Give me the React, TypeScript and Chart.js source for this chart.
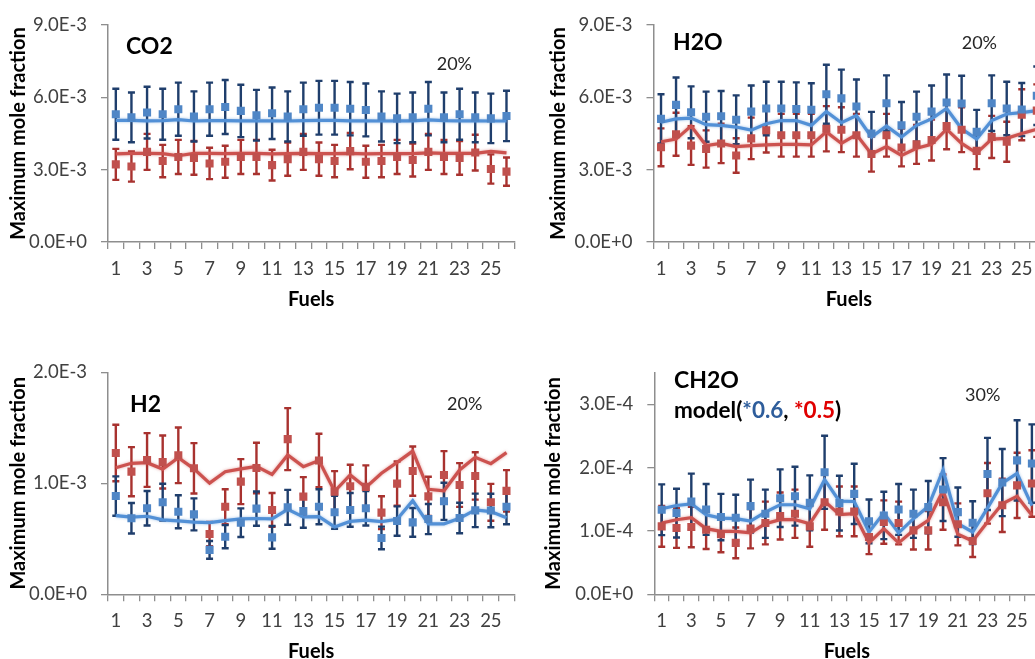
import React, { useEffect, useRef } from 'react';
import { Chart, registerables } from 'chart.js';

Chart.register(...registerables);

// ---------- DATA ----------
const fuels = ['1','2','3','4','5','6','7','8','9','10','11','12','13','14','15','16','17','18','19','20','21','22','23','24','25','26'];

// CO2 (mole fraction)
const co2Blue = [5.30e-3,5.17e-3,5.37e-3,5.30e-3,5.51e-3,5.21e-3,5.51e-3,5.60e-3,5.44e-3,5.26e-3,5.34e-3,5.21e-3,5.51e-3,5.57e-3,5.57e-3,5.53e-3,5.48e-3,5.21e-3,5.13e-3,5.17e-3,5.53e-3,5.17e-3,5.30e-3,5.17e-3,5.13e-3,5.23e-3];
const co2Red = [3.22e-3,3.13e-3,3.74e-3,3.36e-3,3.53e-3,3.49e-3,3.26e-3,3.33e-3,3.53e-3,3.53e-3,3.19e-3,3.44e-3,3.74e-3,3.44e-3,3.36e-3,3.77e-3,3.33e-3,3.36e-3,3.53e-3,3.40e-3,3.74e-3,3.53e-3,3.49e-3,3.71e-3,3.03e-3,2.92e-3];
const co2BlueModel = [5.05e-3,5.05e-3,5.03e-3,5.04e-3,5.08e-3,5.02e-3,5.04e-3,5.04e-3,5.03e-3,5.03e-3,5.03e-3,5.02e-3,5.04e-3,5.05e-3,5.05e-3,5.03e-3,5.03e-3,5.02e-3,5.03e-3,5.03e-3,5.07e-3,5.04e-3,5.03e-3,5.03e-3,5.02e-3,5.02e-3];
const co2RedModel = [3.66e-3,3.68e-3,3.68e-3,3.67e-3,3.58e-3,3.68e-3,3.68e-3,3.67e-3,3.68e-3,3.68e-3,3.66e-3,3.67e-3,3.68e-3,3.67e-3,3.67e-3,3.68e-3,3.66e-3,3.67e-3,3.67e-3,3.67e-3,3.70e-3,3.68e-3,3.68e-3,3.68e-3,3.76e-3,3.70e-3];

// H2O
const h2oBlue = [5.11e-3,5.69e-3,5.38e-3,5.20e-3,5.22e-3,5.07e-3,5.41e-3,5.54e-3,5.54e-3,5.52e-3,5.49e-3,6.13e-3,5.96e-3,5.62e-3,4.50e-3,5.76e-3,4.84e-3,5.20e-3,5.41e-3,5.79e-3,5.75e-3,4.57e-3,5.76e-3,5.54e-3,5.50e-3,6.07e-3];
const h2oRed = [3.93e-3,4.47e-3,4.00e-3,3.86e-3,4.09e-3,3.59e-3,4.30e-3,4.64e-3,4.43e-3,4.43e-3,4.43e-3,4.70e-3,4.66e-3,4.43e-3,3.65e-3,4.43e-3,3.92e-3,4.05e-3,4.23e-3,4.81e-3,4.66e-3,3.78e-3,4.36e-3,4.16e-3,5.28e-3,5.45e-3];
const h2oBlueModel = [4.97e-3,5.11e-3,5.14e-3,4.87e-3,4.84e-3,4.77e-3,4.64e-3,4.91e-3,5.04e-3,5.04e-3,4.84e-3,5.41e-3,4.95e-3,5.25e-3,4.36e-3,4.81e-3,4.36e-3,4.84e-3,5.11e-3,5.54e-3,4.70e-3,4.27e-3,5.04e-3,5.31e-3,5.37e-3,5.45e-3];
const h2oRedModel = [4.16e-3,4.27e-3,4.81e-3,4.00e-3,4.09e-3,3.96e-3,4.00e-3,4.03e-3,4.05e-3,4.05e-3,4.03e-3,4.57e-3,4.09e-3,4.46e-3,3.65e-3,3.96e-3,3.59e-3,3.89e-3,4.05e-3,4.68e-3,4.09e-3,3.69e-3,4.27e-3,4.30e-3,4.50e-3,4.68e-3];

// H2
const h2Blue = [0.885e-3,0.685e-3,0.775e-3,0.830e-3,0.744e-3,0.720e-3,0.400e-3,0.519e-3,0.645e-3,0.772e-3,0.513e-3,0.784e-3,0.750e-3,0.789e-3,0.739e-3,0.760e-3,0.775e-3,0.508e-3,0.660e-3,0.648e-3,0.678e-3,0.838e-3,0.687e-3,0.756e-3,0.755e-3,0.789e-3];
const h2Red = [1.273e-3,1.105e-3,1.210e-3,1.192e-3,1.252e-3,1.135e-3,0.543e-3,0.789e-3,1.015e-3,1.138e-3,0.760e-3,1.398e-3,0.880e-3,1.205e-3,0.925e-3,0.973e-3,0.968e-3,0.736e-3,0.997e-3,1.110e-3,0.882e-3,1.075e-3,0.985e-3,1.066e-3,0.829e-3,0.932e-3];
const h2BlueModel = [0.708e-3,0.696e-3,0.703e-3,0.670e-3,0.662e-3,0.650e-3,0.646e-3,0.664e-3,0.680e-3,0.683e-3,0.680e-3,0.765e-3,0.697e-3,0.700e-3,0.607e-3,0.657e-3,0.668e-3,0.655e-3,0.675e-3,0.843e-3,0.635e-3,0.635e-3,0.684e-3,0.760e-3,0.745e-3,0.689e-3];
const h2RedModel = [1.140e-3,1.180e-3,1.186e-3,1.128e-3,1.230e-3,1.130e-3,1.002e-3,1.105e-3,1.130e-3,1.153e-3,1.080e-3,1.255e-3,1.150e-3,1.205e-3,0.928e-3,1.075e-3,0.962e-3,1.090e-3,1.188e-3,1.290e-3,0.946e-3,0.933e-3,1.120e-3,1.234e-3,1.177e-3,1.276e-3];

// CH2O
const ch2oBlue = [1.335e-4,1.283e-4,1.466e-4,1.340e-4,1.220e-4,1.209e-4,1.393e-4,1.272e-4,1.518e-4,1.550e-4,1.445e-4,1.927e-4,1.440e-4,1.586e-4,1.152e-4,1.246e-4,1.340e-4,1.272e-4,1.377e-4,1.654e-4,1.298e-4,1.131e-4,1.901e-4,1.765e-4,2.115e-4,2.065e-4];
const ch2oRed = [1.073e-4,1.047e-4,1.063e-4,1.021e-4,0.948e-4,0.812e-4,1.037e-4,1.126e-4,1.236e-4,1.272e-4,1.073e-4,1.455e-4,1.309e-4,1.309e-4,0.906e-4,1.141e-4,1.126e-4,1.010e-4,1.010e-4,1.455e-4,1.105e-4,0.843e-4,1.595e-4,1.405e-4,1.720e-4,1.750e-4];
const ch2oBlueModel = [1.351e-4,1.403e-4,1.429e-4,1.257e-4,1.204e-4,1.194e-4,1.157e-4,1.298e-4,1.414e-4,1.414e-4,1.351e-4,1.812e-4,1.471e-4,1.466e-4,0.984e-4,1.283e-4,0.969e-4,1.194e-4,1.387e-4,1.963e-4,1.115e-4,0.984e-4,1.361e-4,1.754e-4,1.911e-4,1.400e-4];
const ch2oRedModel = [1.126e-4,1.178e-4,1.209e-4,1.037e-4,0.995e-4,0.995e-4,0.969e-4,1.115e-4,1.178e-4,1.178e-4,1.115e-4,1.471e-4,1.257e-4,1.272e-4,0.812e-4,1.037e-4,0.812e-4,1.010e-4,1.168e-4,1.639e-4,0.948e-4,0.843e-4,1.141e-4,1.429e-4,1.550e-4,1.250e-4];

// error bar fractions shown on the panels
const errCO2 = 0.2;
const errH2O = 0.2;
const errH2 = 0.2;
const errCH2O = 0.3;

// ---------- STYLE ----------
const FONT = 'Lato, "Open Sans", sans-serif';
const AXIS_GRAY = '#8e8e8e';
const TICK_TEXT = '#404040';
const BLUE_MARK = '#4f86c6';
const RED_MARK = '#c0504d';
const BLUE_ERR = '#1f3e6c';
const RED_ERR = '#a8322f';
const BLUE_LINE = '#5290d6';
const RED_LINE = '#cc524f';
const TICK_SIZE = 18.5;
const TITLE_SIZE = 20;

type Part = { text: string; color: string };
type Note = { x: number; cy: number; size: number; bold: boolean; parts: Part[]; base?: number };

type Panel = {
  left: number; top: number; w: number; h: number;
  axL: number; axR: number; axT: number; axB: number;
  yMax: number; yStep: number; titlePadBottom: number;
  err: number;
  blue: number[]; red: number[]; blueModel: number[]; redModel: number[];
  notes: Note[];
};

const panels: Panel[] = [
  {
    left: 0, top: 0, w: 520, h: 320, axL: 108, axR: 519, axT: 21, axB: 242,
    yMax: 9e-3, yStep: 3e-3, titlePadBottom: 8, err: errCO2,
    blue: co2Blue, red: co2Red, blueModel: co2BlueModel, redModel: co2RedModel,
    notes: [
      { x: 126, cy: 45.3, size: 23, bold: true, parts: [{ text: 'CO2', color: '#000' }] },
      { x: 436.7, cy: 64, size: 18, bold: false, parts: [{ text: '20%', color: '#262626' }] },
    ],
  },
  {
    left: 540, top: 0, w: 510, h: 320, axL: 113.5, axR: 504.3, axT: 21, axB: 242,
    yMax: 9e-3, yStep: 3e-3, titlePadBottom: 8, err: errH2O,
    blue: h2oBlue, red: h2oRed, blueModel: h2oBlueModel, redModel: h2oRedModel,
    notes: [
      { x: 673, cy: 41.7, size: 23, bold: true, parts: [{ text: 'H2O', color: '#000' }] },
      { x: 961.7, cy: 42.7, size: 18, bold: false, parts: [{ text: '20%', color: '#262626' }] },
    ],
  },
  {
    left: 0, top: 330, w: 520, h: 340, axL: 108, axR: 519, axT: 42.3, axB: 264.3,
    yMax: 2e-3, yStep: 1e-3, titlePadBottom: 6.6, err: errH2,
    blue: h2Blue, red: h2Red, blueModel: h2BlueModel, redModel: h2RedModel,
    notes: [
      { x: 130, cy: 403.3, size: 23, bold: true, parts: [{ text: 'H2', color: '#000' }] },
      { x: 447, cy: 404, size: 18, bold: false, parts: [{ text: '20%', color: '#262626' }] },
    ],
  },
  {
    left: 535, top: 330, w: 510, h: 340, axL: 119.3, axR: 504.6, axT: 42.7, axB: 264.3,
    yMax: 3.5e-4, yStep: 1e-4, titlePadBottom: 6.6, err: errCH2O,
    blue: ch2oBlue, red: ch2oRed, blueModel: ch2oBlueModel, redModel: ch2oRedModel,
    notes: [
      { x: 674, cy: 380, size: 23, bold: true, parts: [{ text: 'CH2O', color: '#000' }] },
      {
        x: 674, cy: 411, size: 22.5, bold: true, base: 0.33,
        parts: [
          { text: 'model(', color: '#000' },
          { text: '*0.6', color: '#2e5d9b' },
          { text: ', ', color: '#000' },
          { text: '*0.5', color: '#e00000' },
          { text: ')', color: '#000' },
        ],
      },
      { x: 965, cy: 395, size: 18, bold: false, parts: [{ text: '30%', color: '#262626' }] },
    ],
  },
];

const fmtExp = (v: number) => Number(v).toExponential(1).toUpperCase();

const errorBarPlugin = {
  id: 'errorBars',
  beforeDatasetsDraw(chart: any) {
    const ctx = chart.ctx;
    const ys = chart.scales.y;
    const order = [1, 0];
    order.forEach((idx) => {
      const ds: any = chart.data.datasets[idx];
      if (!ds || !ds.errPct) return;
      const meta = chart.getDatasetMeta(idx);
      ctx.save();
      ctx.strokeStyle = ds.errColor;
      ctx.lineWidth = 2.4;
      meta.data.forEach((pt: any, i: number) => {
        const v = ds.data[i];
        if (v == null) return;
        const x = pt.x;
        const y1 = ys.getPixelForValue(v * (1 + ds.errPct));
        const y2 = ys.getPixelForValue(v * (1 - ds.errPct));
        ctx.beginPath();
        ctx.moveTo(x, y1);
        ctx.lineTo(x, y2);
        ctx.moveTo(x - 3.5, y1);
        ctx.lineTo(x + 3.5, y1);
        ctx.moveTo(x - 3.5, y2);
        ctx.lineTo(x + 3.5, y2);
        ctx.stroke();
      });
      ctx.restore();
    });
  },
  beforeDatasetDraw(chart: any, args: any) {
    const ds: any = chart.data.datasets[args.index];
    if (ds && ds.glow) {
      chart.ctx.shadowColor = ds.glow;
      chart.ctx.shadowBlur = 3;
    }
  },
  afterDatasetDraw(chart: any) {
    chart.ctx.shadowColor = 'rgba(0,0,0,0)';
    chart.ctx.shadowBlur = 0;
  },
};

function makeNotesPlugin(p: Panel) {
  return {
    id: 'notes',
    afterDraw(chart: any) {
      const ctx = chart.ctx;
      ctx.save();
      ctx.textBaseline = 'alphabetic';
      ctx.textAlign = 'left';
      p.notes.forEach((n) => {
        ctx.font = `${n.bold ? 'bold ' : ''}${n.size}px ${FONT}`;
        let x = n.x - p.left;
        const y = n.cy - p.top + (n.base ?? 0.36) * n.size;
        n.parts.forEach((part) => {
          ctx.fillStyle = part.color;
          ctx.fillText(part.text, x, y);
          x += ctx.measureText(part.text).width;
        });
      });
      ctx.restore();
    },
  };
}

function PanelChart({ p }: { p: Panel }) {
  const ref = useRef<HTMLCanvasElement>(null);
  useEffect(() => {
    const canvas = ref.current;
    if (!canvas) return;
    const lastTick = Math.floor(p.yMax / p.yStep + 1e-6) * p.yStep;
    const chart = new Chart(canvas, {
      type: 'line',
      data: {
        labels: fuels,
        datasets: [
          {
            label: 'blue', data: p.blue, showLine: false, pointStyle: 'rect',
            pointRadius: 5.7, pointHoverRadius: 5.7, pointBackgroundColor: BLUE_MARK,
            pointBorderColor: BLUE_MARK, pointBorderWidth: 0,
            errPct: p.err, errColor: BLUE_ERR,
          } as any,
          {
            label: 'red', data: p.red, showLine: false, pointStyle: 'rect',
            pointRadius: 5.7, pointHoverRadius: 5.7, pointBackgroundColor: RED_MARK,
            pointBorderColor: RED_MARK, pointBorderWidth: 0,
            errPct: p.err, errColor: RED_ERR,
          } as any,
          {
            label: 'blue model', data: p.blueModel, borderColor: BLUE_LINE, borderWidth: 3.2,
            pointRadius: 0, tension: 0, fill: false, glow: 'rgba(82,144,214,0.55)',
          } as any,
          {
            label: 'red model', data: p.redModel, borderColor: RED_LINE, borderWidth: 3.2,
            pointRadius: 0, tension: 0, fill: false, glow: 'rgba(204,82,79,0.55)',
          } as any,
        ],
      },
      options: {
        responsive: false,
        animation: false,
        devicePixelRatio: 1,
        layout: { padding: { left: 0, top: p.axT, right: p.w - p.axR, bottom: 0 } },
        plugins: { legend: { display: false }, tooltip: { enabled: false } },
        scales: {
          x: {
            type: 'category',
            offset: true,
            grid: { display: true, drawOnChartArea: false, drawTicks: true, tickLength: 7, color: AXIS_GRAY, lineWidth: 1.3, offset: true },
            border: { display: true, color: AXIS_GRAY, width: 1.5 },
            ticks: {
              autoSkip: false, maxRotation: 0, minRotation: 0, padding: 8.6,
              color: TICK_TEXT, font: { family: FONT, size: TICK_SIZE },
              callback: (_v: any, i: number) => (i % 2 === 0 ? fuels[i] : ''),
            },
            title: {
              display: true, text: 'Fuels', color: '#000',
              font: { family: FONT, size: TITLE_SIZE, weight: 'bold' },
              padding: { top: 0, bottom: p.titlePadBottom },
            },
            afterFit: (s: any) => { s.height = p.h - p.axB; },
          },
          y: {
            type: 'linear',
            min: 0, max: p.yMax, bounds: 'data',
            grid: { display: true, drawOnChartArea: false, drawTicks: true, tickLength: 7, color: AXIS_GRAY, lineWidth: 1.3 },
            border: { display: true, color: AXIS_GRAY, width: 1.5 },
            ticks: {
              stepSize: p.yStep, padding: 14, color: TICK_TEXT,
              font: { family: FONT, size: TICK_SIZE },
              callback: (v: any) => fmtExp(v),
            },
            title: {
              display: true, text: 'Maximum mole fraction', color: '#000',
              font: { family: FONT, size: TITLE_SIZE, weight: 'bold' },
              padding: { top: 6.3, bottom: 0 },
            },
            afterBuildTicks: (s: any) => { s.ticks = s.ticks.filter((t: any) => t.value <= lastTick * (1 + 1e-6)); },
            afterFit: (s: any) => { s.width = p.axL; },
          },
        },
      } as any,
      plugins: [errorBarPlugin, makeNotesPlugin(p)],
    });
    return () => chart.destroy();
  }, [p]);
  return (
    <canvas
      ref={ref}
      width={p.w}
      height={p.h}
      style={{ position: 'absolute', left: p.left, top: p.top, width: p.w, height: p.h }}
    />
  );
}

export default function App() {
  return (
    <div style={{ position: 'fixed', left: 0, top: 0, width: 1035, height: 659, overflow: 'hidden', background: '#fff' }}>
      {panels.map((p, i) => (
        <PanelChart key={i} p={p} />
      ))}
    </div>
  );
}
